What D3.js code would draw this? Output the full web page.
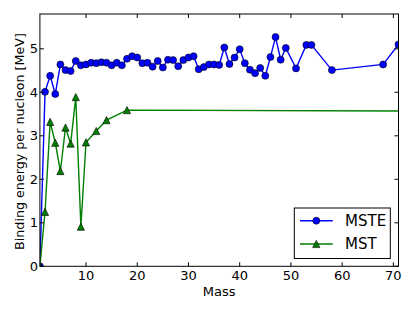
<!DOCTYPE html>
<html>
<head>
<meta charset="utf-8">
<script src="https://cdn.jsdelivr.net/npm/d3@7"></script>
<style>
  body { margin: 0; background: #fff; }
  text { font-family: "DejaVu Sans", sans-serif; fill: #000; }
</style>
</head>
<body>
<div id="chart"></div>
<script>
// Datos
var msteMass = [1, 2, 3, 4, 5, 6, 7, 8, 9, 10, 11, 12, 13, 14, 15, 16, 17, 18, 19, 20,
    21, 22, 23, 24, 25, 26, 27, 28, 29, 30, 31, 32, 33, 34, 35, 36, 37, 38, 39, 40,
    41, 42, 43, 44, 45, 46, 47, 48, 49, 51, 53, 54, 58, 68, 71];
var msteEnergy = [0, 4.01, 4.38, 3.96, 4.64, 4.51, 4.49, 4.72, 4.62, 4.64, 4.68, 4.67, 4.69, 4.68, 4.62, 4.68, 4.62, 4.77, 4.83, 4.80,
    4.67, 4.68, 4.59, 4.72, 4.57, 4.75, 4.74, 4.60, 4.74, 4.80, 4.83, 4.53, 4.58, 4.64, 4.64, 4.63, 5.03, 4.65, 4.80, 4.99,
    4.67, 4.52, 4.44, 4.56, 4.38, 4.81, 5.27, 4.75, 5.02, 4.55, 5.09, 5.09, 4.51, 4.64, 5.10];

var mstMass = [1, 2, 3, 4, 5, 6, 7, 8, 9, 10, 12, 14, 18, 76];
var mstEnergy = [0, 1.25, 3.32, 2.84, 2.19, 3.19, 2.82, 3.89, 0.91, 2.85, 3.11, 3.36, 3.59, 3.568];

var xTicks = [10, 20, 30, 40, 50, 60, 70];
var yTicks = [0, 1, 2, 3, 4, 5];

var series = [
    { name: "MSTE", color: "#0000ff", shape: "circle", mass: msteMass, energy: msteEnergy },
    { name: "MST", color: "#008000", shape: "triangle", mass: mstMass, energy: mstEnergy }
];

var width = 415;
var height = 312;
var plotLeft = 39.9, plotRight = 398.5, plotTop = 14, plotBottom = 266.3;

var x = d3.scaleLinear().domain([1, 71]).range([plotLeft, plotRight]);
var y = d3.scaleLinear().domain([0, 5.8]).range([plotBottom, plotTop]);

var svg = d3.select("#chart")
    .append("svg")
    .attr("width", width)
    .attr("height", height);

svg.append("defs").append("clipPath")
    .attr("id", "plotclip")
    .append("rect")
    .attr("x", plotLeft)
    .attr("y", plotTop)
    .attr("width", plotRight - plotLeft)
    .attr("height", plotBottom - plotTop);

function drawMarker(sel, shape, color) {
    if (shape === "circle") {
        sel.append("circle")
            .attr("r", 3.5)
            .attr("fill", color)
            .attr("stroke", "#000")
            .attr("stroke-width", 0.6);
    } else {
        sel.append("path")
            .attr("d", "M0,-3.6L3.6,3.6L-3.6,3.6Z")
            .attr("fill", color)
            .attr("stroke", "#000")
            .attr("stroke-width", 0.6);
    }
}

// Series
var plot = svg.append("g").attr("clip-path", "url(#plotclip)");

series.forEach(function(s) {
    var pts = s.mass.map(function(m, i) { return [m, s.energy[i]]; });
    var line = d3.line()
        .x(function(d) { return x(d[0]); })
        .y(function(d) { return y(d[1]); });

    plot.append("path")
        .datum(pts)
        .attr("d", line)
        .attr("fill", "none")
        .attr("stroke", s.color)
        .attr("stroke-width", 1.4);

    var marks = plot.selectAll(null)
        .data(pts)
        .enter()
        .append("g")
        .attr("transform", function(d) { return "translate(" + x(d[0]) + "," + y(d[1]) + ")"; });
    drawMarker(marks, s.shape, s.color);
});

// Ejes y marco
var axes = svg.append("g");

axes.append("rect")
    .attr("x", plotLeft)
    .attr("y", plotTop)
    .attr("width", plotRight - plotLeft)
    .attr("height", plotBottom - plotTop)
    .attr("fill", "none")
    .attr("stroke", "#000")
    .attr("stroke-width", 1);

xTicks.forEach(function(t) {
    axes.append("line")
        .attr("x1", x(t)).attr("x2", x(t))
        .attr("y1", plotBottom).attr("y2", plotBottom - 4)
        .attr("stroke", "#000");
    axes.append("line")
        .attr("x1", x(t)).attr("x2", x(t))
        .attr("y1", plotTop).attr("y2", plotTop + 4)
        .attr("stroke", "#000");
    axes.append("text")
        .attr("x", x(t))
        .attr("y", 280)
        .attr("text-anchor", "middle")
        .style("font-size", "13px")
        .text(t);
});

yTicks.forEach(function(t) {
    axes.append("line")
        .attr("x1", plotLeft).attr("x2", plotLeft + 4)
        .attr("y1", y(t)).attr("y2", y(t))
        .attr("stroke", "#000");
    axes.append("line")
        .attr("x1", plotRight).attr("x2", plotRight - 4)
        .attr("y1", y(t)).attr("y2", y(t))
        .attr("stroke", "#000");
    axes.append("text")
        .attr("x", 38)
        .attr("y", y(t))
        .attr("dy", "0.36em")
        .attr("text-anchor", "end")
        .style("font-size", "13px")
        .text(t);
});

axes.append("text")
    .attr("x", (plotLeft + plotRight) / 2)
    .attr("y", 296)
    .attr("text-anchor", "middle")
    .style("font-size", "13px")
    .text("Mass");

axes.append("text")
    .attr("transform", "translate(23.5," + 141.5 + ") rotate(-90)")
    .attr("text-anchor", "middle")
    .style("font-size", "12.7px")
    .text("Binding energy per nucleon [MeV]");

// Leyenda
var legend = svg.append("g");

legend.append("rect")
    .attr("x", 294.3)
    .attr("y", 208)
    .attr("width", 96)
    .attr("height", 50.5)
    .attr("fill", "#fff")
    .attr("stroke", "#000")
    .attr("stroke-width", 1);

var items = legend.selectAll("g.item")
    .data(series)
    .enter()
    .append("g")
    .attr("class", "item")
    .attr("transform", function(d, i) { return "translate(0," + (220.7 + i * 23.3) + ")"; });

items.append("line")
    .attr("x1", 300).attr("x2", 332.7)
    .attr("y1", 0).attr("y2", 0)
    .attr("stroke", function(d) { return d.color; })
    .attr("stroke-width", 1.4);

items.each(function(d) {
    var g = d3.select(this).append("g").attr("transform", "translate(316.3,0)");
    drawMarker(g, d.shape, d.color);
});

items.append("text")
    .attr("x", 345)
    .attr("y", 0)
    .attr("dy", "0.36em")
    .style("font-size", "15px")
    .text(function(d) { return d.name; });
</script>
</body>
</html>
